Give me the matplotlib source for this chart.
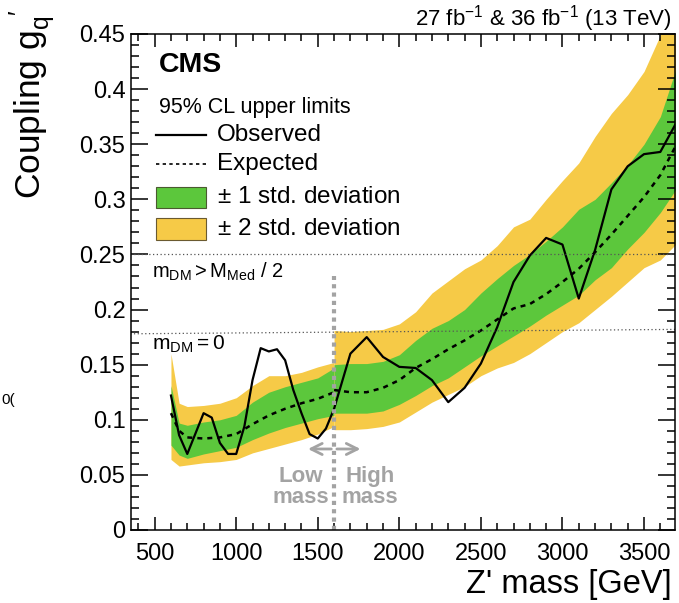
import matplotlib
matplotlib.use("Agg")
import matplotlib.pyplot as plt
from matplotlib.lines import Line2D
from matplotlib.patches import Rectangle

plt.rcParams['font.family'] = ['Liberation Sans', 'DejaVu Sans']
plt.rcParams['mathtext.fontset'] = 'custom'
plt.rcParams['mathtext.rm'] = 'Liberation Sans'
plt.rcParams['mathtext.it'] = 'Liberation Sans:italic'

# observed limit
obs_mass = [600, 650, 700, 800, 850, 900, 950, 1000, 1050, 1100, 1150, 1200, 1250,
            1300, 1350, 1400, 1450, 1500, 1550, 1600, 1700, 1800, 1900, 2000, 2100,
            2200, 2300, 2400, 2500, 2600, 2700, 2800, 2900, 3000, 3100, 3200, 3300,
            3400, 3500, 3600, 3700]
obs = [0.122, 0.086, 0.069, 0.106, 0.102, 0.079, 0.069, 0.069, 0.094, 0.136, 0.165,
       0.162, 0.164, 0.154, 0.127, 0.106, 0.087, 0.083, 0.092, 0.110, 0.160, 0.175,
       0.157, 0.148, 0.147, 0.136, 0.116, 0.129, 0.151, 0.184, 0.225, 0.249, 0.265,
       0.259, 0.210, 0.254, 0.309, 0.330, 0.341, 0.343, 0.370]

# low-mass analysis: expected and bands
low_mass = [600, 650, 700, 800, 900, 1000, 1100, 1200, 1300, 1400, 1500, 1600]
low_exp = [0.106, 0.090, 0.084, 0.083, 0.084, 0.087, 0.096, 0.104, 0.110, 0.115, 0.119, 0.125]
low_p2 = [0.160, 0.115, 0.112, 0.113, 0.115, 0.120, 0.131, 0.140, 0.140, 0.143, 0.148, 0.152]
low_p1 = [0.131, 0.097, 0.095, 0.098, 0.100, 0.104, 0.116, 0.125, 0.130, 0.134, 0.138, 0.147]
low_m1 = [0.077, 0.068, 0.065, 0.069, 0.072, 0.075, 0.082, 0.088, 0.093, 0.097, 0.101, 0.104]
low_m2 = [0.064, 0.058, 0.059, 0.061, 0.062, 0.064, 0.070, 0.074, 0.078, 0.082, 0.087, 0.094]

# high-mass analysis: expected and bands
high_mass = [1600, 1700, 1800, 1900, 2000, 2100, 2200, 2300, 2400, 2500, 2600, 2700,
             2800, 2900, 3000, 3100, 3200, 3300, 3400, 3500, 3600, 3700]
high_exp = [0.127, 0.125, 0.125, 0.129, 0.136, 0.147, 0.155, 0.164, 0.172, 0.181, 0.191,
            0.201, 0.205, 0.214, 0.225, 0.237, 0.252, 0.268, 0.285, 0.302, 0.322, 0.350]
high_p2 = [0.181, 0.180, 0.181, 0.182, 0.187, 0.198, 0.215, 0.226, 0.237, 0.245, 0.258,
           0.275, 0.282, 0.300, 0.317, 0.333, 0.357, 0.378, 0.395, 0.416, 0.449, 0.490]
high_p1 = [0.150, 0.151, 0.151, 0.153, 0.159, 0.172, 0.183, 0.190, 0.200, 0.215, 0.228,
           0.240, 0.250, 0.262, 0.275, 0.291, 0.300, 0.315, 0.331, 0.350, 0.375, 0.420]
high_m1 = [0.106, 0.106, 0.106, 0.108, 0.114, 0.122, 0.131, 0.138, 0.148, 0.158, 0.167,
           0.176, 0.185, 0.195, 0.204, 0.213, 0.227, 0.238, 0.255, 0.270, 0.288, 0.310]
high_m2 = [0.091, 0.091, 0.092, 0.094, 0.098, 0.107, 0.116, 0.123, 0.130, 0.140, 0.147,
           0.152, 0.160, 0.170, 0.180, 0.188, 0.200, 0.212, 0.225, 0.238, 0.245, 0.260]

# reference lines
ref_x = [350, 3700]
ref_half = [0.250, 0.250]
ref_zero = [0.178, 0.182]

green = '#5cc73c'
yellow = '#f6ca47'
gray = '#a3a3a3'

W, H = 679, 603
fig = plt.figure(figsize=(W / 100, H / 100), dpi=100)
ax = fig.add_axes([131 / W, 1 - 530 / H, 544 / W, 496 / H])


def fx(px):
    return px / W


def fy(py):
    return 1 - py / H


for m, p2, p1, m1, m2 in [(low_mass, low_p2, low_p1, low_m1, low_m2),
                          (high_mass, high_p2, high_p1, high_m1, high_m2)]:
    ax.fill_between(m, m2, p2, color=yellow, lw=0)
    ax.fill_between(m, m1, p1, color=green, lw=0)

ax.plot(low_mass, low_exp, color='k', lw=1.8, ls=(0, (2, 2)))
ax.plot(high_mass, high_exp, color='k', lw=1.8, ls=(0, (2, 2)))
ax.plot(obs_mass, obs, color='k', lw=1.6)

ax.plot(ref_x, ref_half, color='#555555', lw=0.9, ls=(0, (1, 2)))
ax.plot(ref_x, ref_zero, color='#555555', lw=0.9, ls=(0, (1, 2)))

ax.text(486, 0.234, r'$\mathregular{m_{DM} > M_{Med}\ /\ 2}$', fontsize=14.5, va='center')
ax.text(486, 0.168, r'$\mathregular{m_{DM} = 0}$', fontsize=15, va='center')

# low / high mass split
ax.plot([1600, 1600], [0, 0.230], color=gray, lw=3, ls=(0, (1, 1)))
ax.annotate('', xy=(1423, 0.0735), xytext=(1600, 0.0735),
            arrowprops=dict(arrowstyle='->', color=gray, lw=2, mutation_scale=20))
ax.annotate('', xy=(1779, 0.0735), xytext=(1600, 0.0735),
            arrowprops=dict(arrowstyle='->', color=gray, lw=2, mutation_scale=20))
ax.text(1393, 0.039, 'Low\nmass', color=gray, fontsize=16, fontweight='bold',
        ha='center', va='center', linespacing=1.05)
ax.text(1822, 0.039, 'High\nmass', color=gray, fontsize=16, fontweight='bold',
        ha='center', va='center', linespacing=1.05)

ax.set_xlim(355, 3690)
ax.set_ylim(0, 0.45)
ax.set_xticks([500, 1000, 1500, 2000, 2500, 3000, 3500])
ax.set_xticks(range(400, 3700, 100), minor=True)
ax.set_yticks([0, 0.05, 0.1, 0.15, 0.2, 0.25, 0.3, 0.35, 0.4, 0.45])
ax.set_yticklabels(['0', '0.05', '0.1', '0.15', '0.2', '0.25', '0.3', '0.35', '0.4', '0.45'])
ax.set_yticks([i / 100 for i in range(0, 46)], minor=True)
ax.tick_params(which='both', direction='in', top=True, right=True, width=1.1,
               labelsize=17)
ax.tick_params(axis='x', which='major', length=9.5, pad=9)
ax.tick_params(axis='x', which='minor', length=5)
ax.tick_params(axis='y', which='major', length=12, pad=4)
ax.tick_params(axis='y', which='minor', length=6)
for s in ax.spines.values():
    s.set_linewidth(1.1)

# axis titles
fig.text(fx(33), fy(10), r"Coupling $\mathregular{g_{q}^{\ \ \prime}}$", rotation=90,
         fontsize=25.5, ha='center', va='top')
fig.text(fx(672), fy(584), "Z' mass [GeV]", fontsize=23.5, ha='right', va='center')
fig.text(fx(672), fy(19), r'27 fb$^{\mathregular{-1}}$ & 36 fb$^{\mathregular{-1}}$ (13 TeV)',
         fontsize=16, ha='right', va='center')
fig.text(fx(1), fy(400), '0(', fontsize=11, ha='left', va='center')

# legend block
fig.text(fx(159), fy(65), 'CMS', fontsize=20.5, fontweight='bold', va='center')
fig.text(fx(159), fy(107), '95% CL upper limits', fontsize=15.5, va='center')
fig.add_artist(Line2D([fx(156), fx(206)], [fy(135), fy(135)], color='k', lw=1.6))
fig.text(fx(217), fy(135), 'Observed', fontsize=17.5, va='center')
fig.add_artist(Line2D([fx(156), fx(206)], [fy(164), fy(164)], color='k', lw=1.2,
                      ls=(0, (2, 2))))
fig.text(fx(217), fy(164), 'Expected', fontsize=17.5, va='center')
fig.add_artist(Rectangle((fx(156), fy(208)), fx(50), 21 / H, facecolor=green,
                         edgecolor='#4a5a30', lw=0.8, transform=fig.transFigure))
fig.text(fx(217), fy(197), r'$\mathregular{\pm}$ 1 std. deviation', fontsize=17.5, va='center')
fig.add_artist(Rectangle((fx(156), fy(240)), fx(50), 22 / H, facecolor=yellow,
                         edgecolor='#6a5a30', lw=0.8, transform=fig.transFigure))
fig.text(fx(217), fy(229), r'$\mathregular{\pm}$ 2 std. deviation', fontsize=17.5, va='center')

fig.savefig('out.png', dpi=100)
